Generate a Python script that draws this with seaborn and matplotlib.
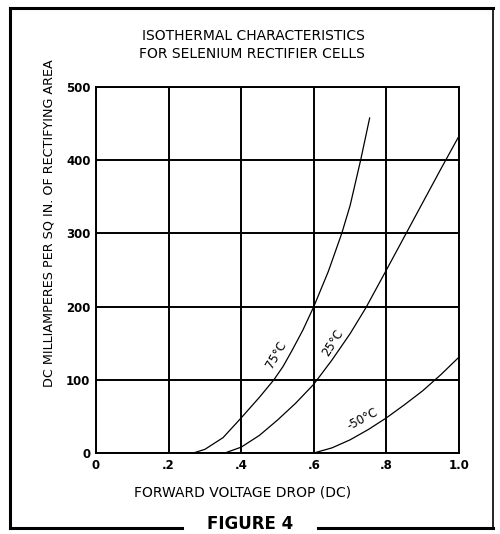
import numpy as np
import pandas as pd
import matplotlib
matplotlib.use("Agg")
import matplotlib.pyplot as plt
import seaborn as sns
from matplotlib.lines import Line2D

# ---- data ----
x_75 = [0.268, 0.30, 0.35, 0.40, 0.45, 0.49, 0.515, 0.54, 0.57, 0.60, 0.64, 0.677, 0.70, 0.729, 0.754]
y_75 = [0, 5, 21, 48, 76, 100, 118, 140, 168, 200, 248, 300, 338, 400, 458]

x_25 = [0.355, 0.40, 0.45, 0.50, 0.55, 0.60, 0.65, 0.70, 0.743, 0.80, 0.85, 0.90, 0.95, 1.0]
y_25 = [0, 8, 24, 45, 68, 94, 127, 163, 198, 250, 296, 342, 388, 433]

x_m50 = [0.60, 0.65, 0.70, 0.75, 0.80, 0.85, 0.90, 0.95, 1.0]
y_m50 = [0, 7, 18, 32, 48, 66, 85, 107, 131]

series_names = ["75°C", "25°C", "-50°C"]
x_ticks = [0, 0.2, 0.4, 0.6, 0.8, 1.0]
x_tick_labels = ["0", ".2", ".4", ".6", ".8", "1.0"]
y_ticks = [0, 100, 200, 300, 400, 500]
y_tick_labels = ["0", "100", "200", "300", "400", "500"]

df = pd.concat([
    pd.DataFrame({"v": x_75, "ma": y_75, "temp": series_names[0]}),
    pd.DataFrame({"v": x_25, "ma": y_25, "temp": series_names[1]}),
    pd.DataFrame({"v": x_m50, "ma": y_m50, "temp": series_names[2]}),
], ignore_index=True)

sns.set_style("white")
plt.rcParams["font.family"] = ["DejaVu Sans"]
plt.rcParams["text.color"] = "black"
plt.rcParams["xtick.color"] = "black"
plt.rcParams["ytick.color"] = "black"

W, H = 500, 534
fig = plt.figure(figsize=(W / 100, H / 100), dpi=100)

def fx(px):
    return px / W

def fy(py):
    return 1 - py / H

ax = fig.add_axes([fx(96), fy(453), (459 - 96) / W, (453 - 87) / H])

sns.lineplot(data=df, x="v", y="ma", hue="temp", units="temp", estimator=None,
             palette={n: "black" for n in series_names}, linewidth=0.9,
             legend=False, sort=False, ax=ax)

ax.set_xlim(0, 1.0)
ax.set_ylim(0, 500)
ax.set_xticks(x_ticks)
ax.set_xticklabels(x_tick_labels)
ax.set_yticks(y_ticks)
ax.set_yticklabels(y_tick_labels)
ax.tick_params(axis="both", length=0, labelsize=8.5, pad=4, colors="black")
for lab in ax.get_xticklabels() + ax.get_yticklabels():
    lab.set_fontweight("bold")
ax.grid(True, color="black", linewidth=1.4)
for s in ax.spines.values():
    s.set_color("black")
    s.set_linewidth(1.4)
ax.set_xlabel("")
ax.set_ylabel("")

# curve labels
ax.text(0.497, 134, "75°C", rotation=60, ha="center", va="center", fontsize=8.5, color="black")
ax.text(0.652, 150, "25°C", rotation=58, ha="center", va="center", fontsize=8.5, color="black")
ax.text(0.733, 46, "-50°C", rotation=28, ha="center", va="center", fontsize=8.5, color="black")

# titles and axis labels
fig.text(fx(253), fy(36.5), "ISOTHERMAL CHARACTERISTICS", ha="center", va="center",
         fontsize=10, color="black")
fig.text(fx(252), fy(54), "FOR SELENIUM RECTIFIER CELLS", ha="center", va="center",
         fontsize=10, color="black")
fig.text(fx(49), fy(223), "DC MILLIAMPERES PER SQ IN. OF RECTIFYING AREA", rotation=90,
         ha="center", va="center", fontsize=9.2, color="black")
fig.text(fx(243), fy(493), "FORWARD VOLTAGE DROP (DC)", ha="center", va="center",
         fontsize=10, color="black")

# outer frame
def fline(xs, ys, lw):
    fig.add_artist(Line2D([fx(v) for v in xs], [fy(v) for v in ys], color="black",
                          linewidth=lw, transform=fig.transFigure, solid_capstyle="projecting"))

fline([10, 10], [8, 528], 2.2)
fline([10, 493], [8, 8], 2.2)
fline([493, 493], [8, 528], 1.2)
fline([10, 182], [528, 528], 2.2)
fline([318, 493], [528, 528], 2.2)
fig.text(fx(250), fy(529), "FIGURE 4", ha="center", va="baseline", fontsize=12,
         fontweight="bold", color="black")

fig.savefig("out.png", dpi=100)
